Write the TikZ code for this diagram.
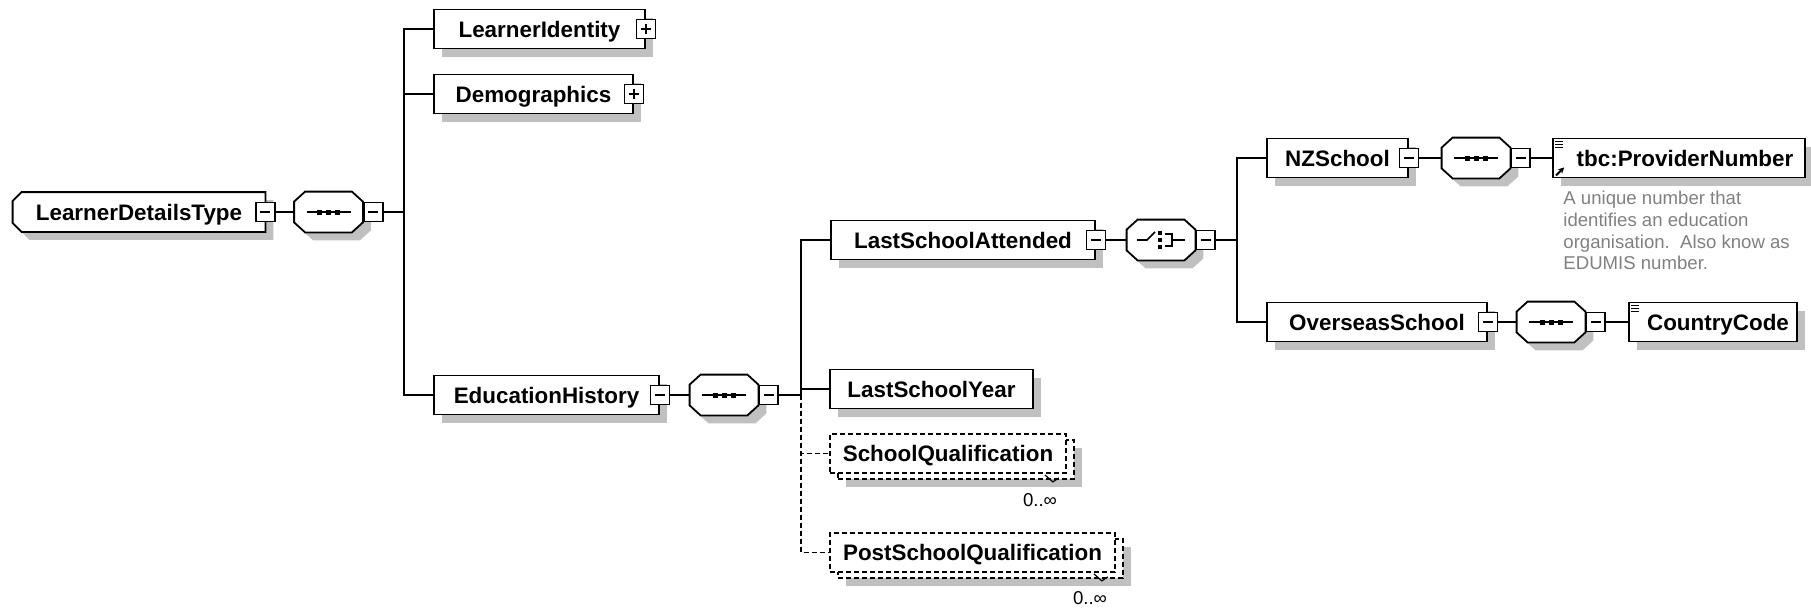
\documentclass[tikz,border=0pt]{standalone}
\usepackage{fontspec}
\setmainfont{Liberation Sans}
\usetikzlibrary{shadows,calc,arrows.meta,backgrounds}
\definecolor{shadowgray}{RGB}{192,192,192}
\definecolor{notegray}{RGB}{128,128,128}
\newcommand\elemfont{\fontsize{11.2}{13}\selectfont\bfseries}
% octagon outline round a compositor node, shifted by (#2,#3)
\newcommand\octopath[3]{($(#1.north west)+(11+#2,#3)$) -- ($(#1.north east)+(-11+#2,#3)$) -- ($(#1.north east)+(#2,10+#3)$) -- ($(#1.south east)+(#2,-10+#3)$) -- ($(#1.south east)+(-11+#2,#3)$) -- ($(#1.south west)+(11+#2,#3)$) -- ($(#1.south west)+(#2,-10+#3)$) -- ($(#1.north west)+(#2,10+#3)$) -- cycle}
% complex type outline: left corners chamfered
\newcommand\ctypepath[3]{($(#1.north west)+(9+#2,#3)$) -- ($(#1.north east)+(#2,#3)$) -- ($(#1.south east)+(#2,#3)$) -- ($(#1.south west)+(9+#2,#3)$) -- ($(#1.south west)+(#2,-9+#3)$) -- ($(#1.north west)+(#2,9+#3)$) -- cycle}
\newcommand\seqglyph[1]{%
  \draw[line width=0.8pt] ($(#1.center)+(-22,0)$) -- ($(#1.center)+(22,0)$);
  \foreach \dx in {-9,0,9}{\fill ($(#1.center)+(\dx,0)+(-2.5,-2.5)$) rectangle ++(5,5);}
}
\newcommand\choiceglyph[1]{%
  \draw[line width=0.8pt] ($(#1.center)+(-24,0)$) -- ($(#1.center)+(-14,0)$) -- ($(#1.center)+(-6,-8)$);
  \foreach \dy in {-7,0,7}{\fill ($(#1.center)+(-1,\dy)+(-2,-2)$) rectangle ++(4,4);}
  \draw[line width=0.8pt] ($(#1.center)+(4,-6)$) -- ($(#1.center)+(11,-6)$) -- ($(#1.center)+(11,6)$) -- ($(#1.center)+(4,6)$);
  \draw[line width=0.8pt] ($(#1.center)+(11,0)$) -- ($(#1.center)+(24,0)$);
}
\begin{document}
\begin{tikzpicture}[x=0.5pt,y=-0.5pt,
  ln/.style={line width=0.9pt},
  outl/.style={draw, fill=white, line width=0.9pt},
  optdash/.style={dash pattern=on 2.5pt off 1.5pt},
  elem/.style={draw, fill=white, line width=0.9pt, rectangle, minimum height=19.5pt, inner sep=0pt, font=\elemfont,
    text height=8pt, text depth=0pt,
    drop shadow={shadow xshift=4pt, shadow yshift=-4pt, fill=shadowgray, opacity=1}},
  ctype/.style={rectangle, minimum height=19.5pt, inner sep=0pt, font=\elemfont, text height=8pt, text depth=0pt},
  comp/.style={rectangle, minimum width=34pt, minimum height=20pt, inner sep=0pt},
  pmbox/.style={draw, fill=white, line width=0.9pt, rectangle, minimum size=9.5pt, inner sep=0pt},
  minusbox/.style={pmbox, path picture={\draw[line width=0.8pt] ($(path picture bounding box.center)+(-5,0)$) -- ($(path picture bounding box.center)+(5,0)$);}},
  plusbox/.style={pmbox, path picture={\draw[line width=0.8pt] ($(path picture bounding box.center)+(-5,0)$) -- ($(path picture bounding box.center)+(5,0)$) ($(path picture bounding box.center)+(0,-5)$) -- ($(path picture bounding box.center)+(0,5)$);}},
  repelem/.style={draw, fill=white, line width=0.9pt, optdash, rectangle, minimum height=19.5pt, inner sep=0pt, font=\elemfont,
    text height=8pt, text depth=0pt,
    drop shadow={shadow xshift=8pt, shadow yshift=-7pt, fill=shadowgray, opacity=1},
    copy shadow={shadow xshift=4pt, shadow yshift=-3pt, draw=black, fill=white, line width=0.9pt, optdash}},
  card/.style={inner sep=0pt, font=\fontsize{9.3}{11}\selectfont},
  note/.style={anchor=north west, align=left, inner sep=0pt, text=notegray, font=\fontsize{9.3}{10.85}\selectfont},
  icon/.style={line width=0.7pt}
]
\useasboundingbox (0,0) rectangle (1811,607);
% root
\node[ctype, minimum width=126pt] (ldt) at (139,212) {LearnerDetailsType};
\node[minusbox] (ldtm) at (ldt.east) {};
\node[comp] (s1) at (328.5,212) {};
\node[minusbox, anchor=west] (s1m) at (s1.east) {};
\coordinate (b1) at (404,212);
% first level
\node[elem, minimum width=105.5pt] (li) at (539.5,29) {LearnerIdentity};
\node[plusbox] (lip) at (li.east) {};
\node[elem, minimum width=99.5pt] (dm) at (533.5,94) {Demographics};
\node[plusbox] (dmp) at (dm.east) {};
\node[elem, minimum width=112.5pt] (eh) at (546.5,395) {EducationHistory};
\node[minusbox] (ehm) at (eh.east) {};
\node[comp] (s2) at (724,395) {};
\node[minusbox, anchor=west] (s2m) at (s2.east) {};
\coordinate (b2) at (801,395);
% education history children
\node[elem, minimum width=132pt] (lsa) at (963,240) {LastSchoolAttended};
\node[minusbox] (lsam) at (lsa.east) {};
\node[comp] (ch) at (1161,240) {};
\node[minusbox, anchor=west] (chm) at (ch.east) {};
\coordinate (b3) at (1237,240);
\node[elem, minimum width=101.5pt] (lsy) at (931.5,389) {LastSchoolYear};
\node[repelem, minimum width=118pt] (sq) at (948,453.5) {SchoolQualification};
\node[repelem, minimum width=142.5pt] (psq) at (972.5,552.5) {PostSchoolQualification};
\node[card] (sqc) at (1040,500) {0..∞};
\node[card] (psqc) at (1090,598) {0..∞};
% school choice
\node[elem, minimum width=70.5pt] (nz) at (1337.5,158) {NZSchool};
\node[minusbox] (nzm) at (nz.east) {};
\node[comp] (s3) at (1476,158) {};
\node[minusbox, anchor=west] (s3m) at (s3.east) {};
\node[elem, minimum width=126pt] (pn) at (1679,158) {\hspace{6pt}tbc:ProviderNumber};
\node[note] (pnnote) at (1563,191) {A unique number that\\identifies an education\\organisation.~~Also know as\\EDUMIS number.};
\node[elem, minimum width=110pt] (os) at (1377,322) {OverseasSchool};
\node[minusbox] (osm) at (os.east) {};
\node[comp] (s4) at (1551,322) {};
\node[minusbox, anchor=west] (s4m) at (s4.east) {};
\node[elem, minimum width=84pt] (cc) at (1713,322) {\hspace{5pt}CountryCode};
% outlines of the chamfered shapes (behind their texts and glyphs)
\begin{scope}[on background layer]
  \fill[shadowgray] \ctypepath{ldt}{8}{8};
  \path[outl] \ctypepath{ldt}{0}{0};
  \foreach \c in {s1,s2,s3,s4,ch}{
    \fill[shadowgray] \octopath{\c}{8}{8};
    \path[outl] \octopath{\c}{0}{0};
  }
\end{scope}
% glyphs
\seqglyph{s1}
\seqglyph{s2}
\seqglyph{s3}
\seqglyph{s4}
\choiceglyph{ch}
% simple-content icons
\foreach \dy in {4,7,10}{
  \draw[icon] ($(pn.north west)+(3,\dy)$) -- ++(8,0);
  \draw[icon] ($(cc.north west)+(3,\dy)$) -- ++(8,0);
}
\draw[line width=1pt, -{Stealth[length=3pt,width=3pt]}] ($(pn.south west)+(4,-3)$) -- ++(8,-8);
% cardinality marks
\draw[line width=0.6pt] ($(sq.south east)+(-22,1)$) -- ++(8,7) -- ++(6,-4);
\draw[line width=0.6pt] ($(psq.south east)+(-22,1)$) -- ++(8,7) -- ++(6,-4);
% connectors
\draw[ln] (ldtm.east) -- (s1.west);
\draw[ln] (s1m.east) -- (b1);
\draw[ln] (b1) |- (li.west);
\draw[ln] (b1) |- (dm.west);
\draw[ln] (b1) |- (eh.west);
\draw[ln] (ehm.east) -- (s2.west);
\draw[ln] (s2m.east) -- (b2);
\draw[ln] (b2) |- (lsa.west);
\draw[ln] (b2) |- (lsy.west);
\draw[ln, optdash] (b2) |- (sq.west);
\draw[ln, optdash] (b2) |- (psq.west);
\draw[ln] (lsam.east) -- (ch.west);
\draw[ln] (chm.east) -- (b3);
\draw[ln] (b3) |- (nz.west);
\draw[ln] (b3) |- (os.west);
\draw[ln] (nzm.east) -- (s3.west);
\draw[ln] (s3m.east) -- (pn.west);
\draw[ln] (osm.east) -- (s4.west);
\draw[ln] (s4m.east) -- (cc.west);
\end{tikzpicture}
\end{document}
